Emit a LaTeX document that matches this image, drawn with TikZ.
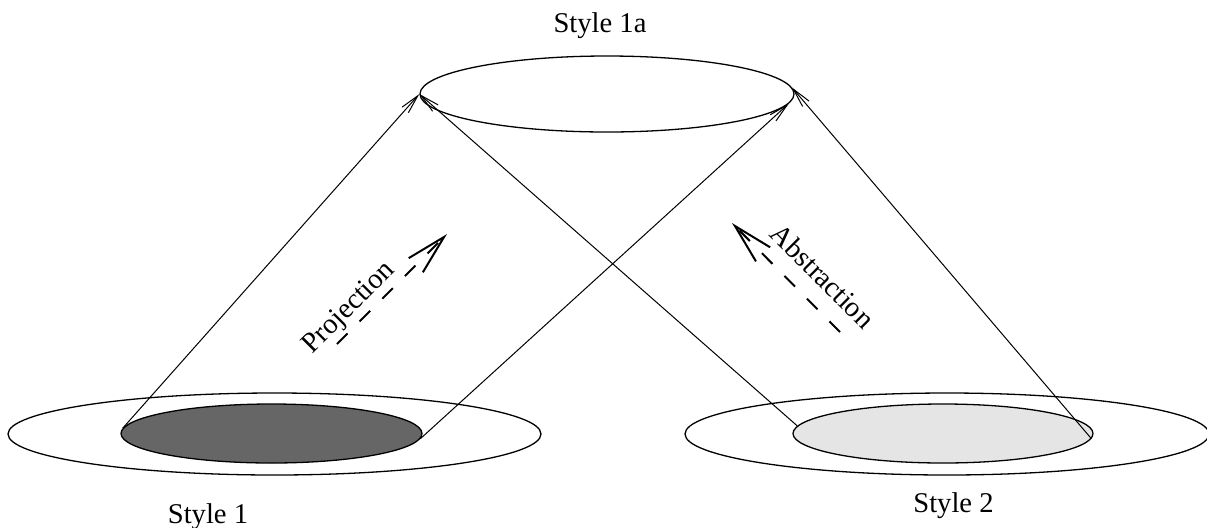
\documentclass[tikz,border=0pt]{standalone}
\usepackage{fontspec}
\setmainfont{Liberation Serif}
\usetikzlibrary{shapes.geometric,arrows.meta}
\begin{document}
\begin{tikzpicture}[x=0.5pt,y=-0.5pt,
  disc/.style={ellipse,draw,line width=0.65pt,inner sep=0pt},
  link/.style={line width=0.5pt,-{Straight Barb[length=9.5pt,width=4.2pt]}},
  flow/.style={line width=1pt,dash pattern=on 7.5pt off 8.5pt,
    -{Straight Barb[length=20pt,width=10pt]}},
  caption/.style={font=\fontsize{14.3}{17}\selectfont,inner sep=0pt,anchor=base}]
\useasboundingbox (0,0) rectangle (1207,527);

% common projected style at the top
\node[disc,minimum width=187pt,minimum height=38pt] (top) at (607,94) {};

% style 1 on the left
\node[disc,minimum width=266.5pt,minimum height=41pt] (outA) at (274.5,434) {};
\node[disc,fill={rgb,255:red,102;green,102;blue,102},minimum width=150.5pt,minimum height=29.5pt] (inA) at (271.5,433.5) {};

% style 2 on the right
\node[disc,minimum width=262pt,minimum height=41pt] (outB) at (947,434) {};
\node[disc,fill={rgb,255:red,229;green,229;blue,229},minimum width=150pt,minimum height=29.5pt] (inB) at (943,433.5) {};

% connectors from each inner region up to the top ellipse
\draw[link] (inA.178) -- (top.west);
\draw[link] (inA.-2.5) -- (top.-3);
\draw[link] (inB.177.5) -- (top.west);
\draw[link] (inB.-2) -- (top.2);

% labels
\node[caption] (lab1a) at (600,32) {Style 1a};
\node[caption] (lab1) at (208,523) {Style 1};
\node[caption] (lab2) at (953.5,512) {Style 2};

% dashed direction arrows
\coordinate (pjs) at (337,344);
\coordinate (pje) at (447,234);
\draw[flow] (pjs) -- (pje);
\node[caption,rotate=45] (pj) at (354,313) {Projection};

\coordinate (abs) at (840,332);
\coordinate (abe) at (732,223);
\draw[flow] (abs) -- (abe);
\node[caption,rotate=-45] (ab) at (816,283) {Abstraction};
\end{tikzpicture}
\end{document}
